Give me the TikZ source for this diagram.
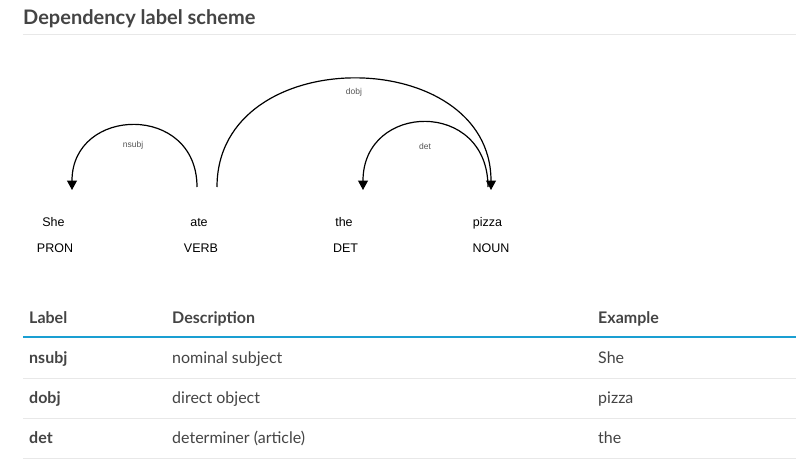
\documentclass[tikz,border=0pt]{standalone}
\usepackage{fontspec}
\setmainfont{Lato}
\newfontfamily\arialfont{Liberation Sans}
\usetikzlibrary{arrows.meta}
\definecolor{txt}{HTML}{444444}
\definecolor{rulegray}{HTML}{E8E8E8}
\definecolor{accent}{HTML}{1A9FD2}
\definecolor{deplbl}{HTML}{555555}
\tikzset{
  title/.style={anchor=west,inner sep=0pt,text=txt,font=\fontsize{20}{24}\selectfont\bfseries},
  word/.style={inner sep=0pt,anchor=base,text=black,font=\arialfont\fontsize{12.5}{14}\selectfont},
  dlabel/.style={inner sep=0pt,text=deplbl,font=\arialfont\fontsize{8.5}{9}\selectfont},
  arcline/.style={draw=black,line width=1.2pt,-{Triangle[length=9.5pt,width=10pt]}},
  cell/.style={anchor=base west,inner sep=0pt,text=txt,font=\fontsize{16}{19}\selectfont},
  hcell/.style={cell,font=\fontsize{16}{19}\selectfont\bfseries},
  thinrule/.style={draw=rulegray,line width=0.8pt},
}
\begin{document}
\begin{tikzpicture}[x=1pt,y=-1pt]
\useasboundingbox[fill=white] (0,0) rectangle (796,471);
% title
\node[title] (ttl) at (23,19) {Dependency label scheme};
\coordinate (tl) at (23,34); \coordinate (tr) at (796,34);
\draw[draw=rulegray,line width=0.8pt] (tl) -- (tr);
% words
\node[word] (w1) at (53.5,226.5) {She};
\node[word] (w2) at (199,226.5) {ate};
\node[word] (w3) at (344,226.5) {the};
\node[word] (w4) at (487.5,226.5) {pizza};
\node[word] (t1) at (55,252.5) {PRON};
\node[word] (t2) at (201,252.5) {VERB};
\node[word] (t3) at (345.5,252.5) {DET};
\node[word] (t4) at (491,252.5) {NOUN};
% arc end points
\coordinate (aS) at (197,187);
\coordinate (aD) at (217,187);
\coordinate (sheE) at (72,190);
\coordinate (theE) at (363,190);
\coordinate (pizE) at (491,190);
\coordinate (pizS) at (488,187);
\draw[arcline] (aS) .. controls +(0,-84) and +(0,-84) .. (sheE);
\draw[arcline] (aD) .. controls +(0,-146) and +(0,-146) .. (pizE);
\draw[arcline] (pizS) .. controls +(0,-88) and +(0,-88) .. (theE);
\node[dlabel] (l1) at (133,145) {nsubj};
\node[dlabel] (l2) at (354,92) {dobj};
\node[dlabel] (l3) at (425,146) {det};
% table
\node[hcell] (h1) at (29,323) {Label};
\node[hcell] (h2) at (172,323) {Description};
\node[hcell] (h3) at (598,323) {Example};
\coordinate (bl) at (23,337); \coordinate (br) at (796,337);
\draw[draw=accent,line width=2.2pt] (bl) -- (br);
\node[hcell] (r1a) at (29,363) {nsubj};
\node[cell] (r1b) at (172,363) {nominal subject};
\node[cell] (r1c) at (598,363) {She};
\coordinate (s1l) at (23,378); \coordinate (s1r) at (796,378);
\draw[thinrule] (s1l) -- (s1r);
\node[hcell] (r2a) at (29,403) {dobj};
\node[cell] (r2b) at (172,403) {direct object};
\node[cell] (r2c) at (598,403) {pizza};
\coordinate (s2l) at (23,418); \coordinate (s2r) at (796,418);
\draw[thinrule] (s2l) -- (s2r);
\node[hcell] (r3a) at (29,443) {det};
\node[cell] (r3b) at (172,443) {determiner (article)};
\node[cell] (r3c) at (598,443) {the};
\coordinate (s3l) at (23,458); \coordinate (s3r) at (796,458);
\draw[thinrule] (s3l) -- (s3r);
\end{tikzpicture}
\end{document}
